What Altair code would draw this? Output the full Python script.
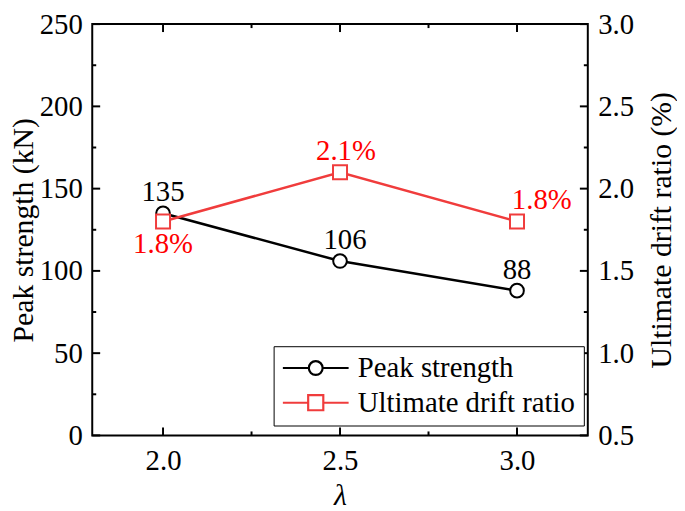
import altair as alt
import pandas as pd

# ---- data ----
lam = [2.0, 2.5, 3.0]
peak = [135, 106, 88]
drift = [1.8, 2.1, 1.8]
peak_labels = ["135", "106", "88"]
drift_labels = ["1.8%", "2.1%", "1.8%"]
series = ["Peak strength", "Ultimate drift ratio"]
left_major = [0, 50, 100, 150, 200, 250]
left_minor = [25, 75, 125, 175, 225]
right_major = [0.5, 1.0, 1.5, 2.0, 2.5, 3.0]
x_major = [2.0, 2.5, 3.0]
x_minor = [2.25, 2.75]

W, H = 500, 415
FONT = "Liberation Serif, Times New Roman, Times, serif"
FS = 29        # tick labels
FT = 30        # axis titles
FL = 29        # legend / data labels
RED_LINE = "#f03c3c"
RED_TXT = "#ff0000"

df = pd.DataFrame({"lam": lam, "peak": peak, "drift": drift,
                   "plab": peak_labels, "dlab": drift_labels})
# label offsets (style)
PDX = [0, 5, 0]
PDY = [-21, -21, -21]
DDY = [23, -21, -22]
DDX = [0, 6, 25]

xs = alt.Scale(domain=[1.8, 3.2], nice=False, zero=False)
ysL = alt.Scale(domain=[0, 250], nice=False, zero=False)
ysR = alt.Scale(domain=[0.5, 3.0], nice=False, zero=False)

x_axis = alt.Axis(values=x_major, format=".1f", title="λ", titleFontStyle="italic",
                  ticks=False, domain=False, grid=False, labelPadding=11,
                  titlePadding=6)
yl_axis = alt.Axis(values=left_major, format="d", title="Peak strength (kN)",
                   ticks=False, domain=False, grid=False, labelPadding=10,
                   titlePadding=1, orient="left")
yr_axis = alt.Axis(values=right_major, format=".1f", title="Ultimate drift ratio (%)",
                   ticks=False, domain=False, grid=False, labelPadding=10,
                   titlePadding=13, orient="right", titleAngle=270,
                   titleBaseline="top")

X = alt.X("lam:Q", scale=xs, axis=x_axis)

base = alt.Chart(df)

peak_line = base.mark_line(color="black", strokeWidth=2.5).encode(
    x=X, y=alt.Y("peak:Q", scale=ysL, axis=yl_axis))
peak_pts = base.mark_point(shape="circle", size=190, filled=True, fill="white",
                           stroke="black", strokeWidth=2, opacity=1).encode(
    x="lam:Q", y=alt.Y("peak:Q", scale=ysL))
peak_txts = []
for i in range(len(lam)):
    peak_txts.append(
        alt.Chart(df.iloc[[i]]).mark_text(font=FONT, fontSize=FL, color="black",
                                         dx=PDX[i], dy=PDY[i]).encode(
            x="lam:Q", y=alt.Y("peak:Q", scale=ysL), text="plab:N"))

# inward ticks (left / right / bottom / top)
tl = pd.DataFrame({"v": left_major})
tlm = pd.DataFrame({"v": left_minor})
tx = pd.DataFrame({"v": x_major})
txm = pd.DataFrame({"v": x_minor})

def yticks(data, length, side):
    if side == "left":
        return alt.Chart(data).mark_rule(color="black", strokeWidth=2).encode(
            y=alt.Y("v:Q", scale=ysL), x=alt.value(0), x2=alt.value(length))
    return alt.Chart(data).mark_rule(color="black", strokeWidth=2).encode(
        y=alt.Y("v:Q", scale=ysL), x=alt.value(W), x2=alt.value(W - length))

def xticks(data, length, side):
    if side == "bottom":
        return alt.Chart(data).mark_rule(color="black", strokeWidth=2).encode(
            x=alt.X("v:Q", scale=xs), y=alt.value(H), y2=alt.value(H - length))
    return alt.Chart(data).mark_rule(color="black", strokeWidth=2).encode(
        x=alt.X("v:Q", scale=xs), y=alt.value(0), y2=alt.value(length))

ticks = [yticks(tl, 8, "left"), yticks(tlm, 4, "left"),
         yticks(tl, 8, "right"), yticks(tlm, 4, "right"),
         xticks(tx, 8, "bottom"), xticks(txm, 4, "bottom"),
         xticks(tx, 8, "top"), xticks(txm, 4, "top")]

circle_path = ("M-1,0L-0.21,0M0.21,0L1,0"
               "M-0.21,0A0.21,0.21 0 1,1 0.21,0A0.21,0.21 0 1,1 -0.21,0Z")
square_path = ("M-1,0L-0.23,0M0.23,0L1,0"
               "M-0.23,-0.23L0.23,-0.23L0.23,0.23L-0.23,0.23Z")

leg = alt.Legend(title=None, orient="none", legendX=183, legendY=325,
                 strokeColor="black", fillColor="white", padding=8,
                 symbolSize=4400, symbolStrokeWidth=2.2,
                 symbolFillColor="white",
                 labelFont=FONT, labelFontSize=FL, labelLimit=500,
                 labelColor="black", labelOffset=8,
                 clipHeight=28, rowPadding=6, symbolOpacity=1)

# legend carrier: tiny points hidden under the real markers
leg_df = pd.DataFrame({"series": series, "lam": [2.0, 2.0], "peak": [135, 135]})
legend_layer = alt.Chart(leg_df).mark_point(filled=True, fill="white",
                                            strokeWidth=0.5, opacity=1, size=4).encode(
    x="lam:Q", y=alt.Y("peak:Q", scale=ysL),
    stroke=alt.Stroke("series:N",
                      scale=alt.Scale(domain=series, range=["black", RED_LINE]),
                      legend=leg),
    shape=alt.Shape("series:N",
                    scale=alt.Scale(domain=series, range=[circle_path, square_path]),
                    legend=leg))

left_layer = alt.layer(peak_line, *ticks, legend_layer, peak_pts, *peak_txts)

drift_line = base.mark_line(color=RED_LINE, strokeWidth=2.5).encode(
    x="lam:Q", y=alt.Y("drift:Q", scale=ysR, axis=yr_axis))
drift_pts = base.mark_point(shape="square", size=200, filled=True, fill="white",
                            stroke=RED_LINE, strokeWidth=2, opacity=1).encode(
    x="lam:Q", y=alt.Y("drift:Q", scale=ysR))
drift_txts = []
for i in range(len(lam)):
    drift_txts.append(
        alt.Chart(df.iloc[[i]]).mark_text(font=FONT, fontSize=FL, color=RED_TXT,
                                         dx=DDX[i], dy=DDY[i]).encode(
            x="lam:Q", y=alt.Y("drift:Q", scale=ysR), text="dlab:N"))

right_layer = alt.layer(drift_line, drift_pts, *drift_txts)

chart = alt.layer(left_layer, right_layer).resolve_scale(
    y="independent"
).properties(
    width=W, height=H,
    autosize=alt.AutoSizeParams(type="none"),
    padding={"left": 85, "top": 14, "right": 90, "bottom": 74},
).configure_view(
    stroke="black", strokeWidth=2
).configure_axis(
    labelFont=FONT, titleFont=FONT, labelFontSize=FS, titleFontSize=FT,
    labelColor="black", titleColor="black", titleFontWeight="normal"
).configure_text(font=FONT)

chart.save("out.html", embed_options={"renderer": "svg", "actions": False})
